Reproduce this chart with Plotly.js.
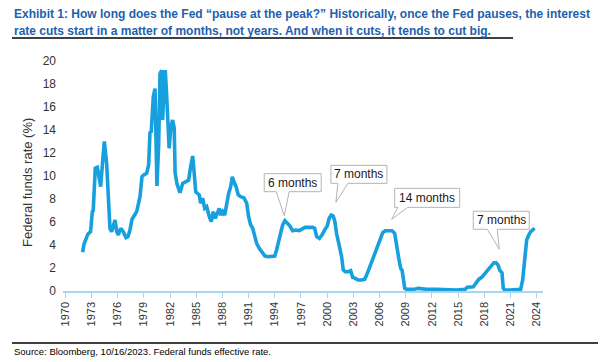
<!DOCTYPE html>
<html>
<head>
<meta charset="utf-8">
<script src="https://cdn.plot.ly/plotly-3.0.1.min.js"></script>
<style>
  html, body { margin: 0; padding: 0; background: #fff; }
  #chart { width: 602px; height: 362px; }
</style>
</head>
<body>
<div id="chart"></div>
<script>
// Federal funds effective rate (%), sampled along the series
const years = [
  1971.99, 1972.14, 1972.6, 1972.9, 1973.1, 1973.2, 1973.44, 1973.67, 1973.86, 1974.05,
  1974.2, 1974.47, 1974.74, 1974.97, 1975.12, 1975.31, 1975.5, 1975.7, 1975.9, 1976.07,
  1976.35, 1976.65, 1976.95, 1977.18, 1977.41, 1977.64, 1977.87, 1978.18, 1978.56, 1978.79,
  1979.0, 1979.32, 1979.55, 1979.7, 1979.85, 1980.08, 1980.28, 1980.39, 1980.5, 1980.7,
  1980.85, 1981.04, 1981.16, 1981.3, 1981.45, 1981.6, 1981.76, 1981.9, 1982.1, 1982.3,
  1982.48, 1982.58, 1982.8, 1983.0, 1983.14, 1983.45, 1983.83, 1984.13, 1984.36, 1984.59,
  1984.74, 1984.94, 1985.12, 1985.35, 1985.5, 1985.74, 1985.97, 1986.2, 1986.5, 1986.72,
  1986.95, 1987.18, 1987.41, 1987.64, 1987.8, 1988.03, 1988.26, 1988.49, 1988.72, 1988.95,
  1989.13, 1989.32, 1989.56, 1989.82, 1990.09, 1990.47, 1990.78, 1991.0, 1991.24, 1991.47,
  1991.7, 1991.92, 1992.22, 1992.53, 1992.87, 1993.25, 1993.64, 1994.0, 1994.2, 1994.44,
  1994.67, 1994.9, 1995.16, 1995.43, 1995.74, 1996.04, 1996.42, 1996.8, 1997.08, 1997.46,
  1997.84, 1998.34, 1998.57, 1998.8, 1999.1, 1999.4, 1999.7, 2000.0, 2000.23, 2000.46,
  2000.69, 2000.88, 2001.07, 2001.26, 2001.45, 2001.65, 2001.84, 2002.07, 2002.42, 2002.69,
  2002.92, 2003.22, 2003.53, 2003.9, 2004.29, 2004.6, 2004.9, 2005.28, 2005.67, 2006.05,
  2006.36, 2006.66, 2007.05, 2007.43, 2007.73, 2007.96, 2008.2, 2008.42, 2008.57, 2008.72,
  2008.88, 2009.1, 2009.87, 2010.44, 2011.4, 2012.54, 2013.69, 2014.83, 2015.79, 2016.05,
  2016.74, 2017.12, 2017.35, 2017.7, 2018.07, 2018.45, 2018.84, 2019.1, 2019.33, 2019.56,
  2019.79, 2020.02, 2020.17, 2020.33, 2020.93, 2021.7, 2022.16, 2022.39, 2022.54, 2022.69,
  2022.85, 2023.08, 2023.31, 2023.61, 2023.77
];
const rates = [
  3.37, 4.06, 4.96, 5.16, 6.9, 7.0, 10.67, 10.75, 9.94, 9.07,
  10.5, 13.0, 11.1, 7.9, 5.45, 5.16, 5.74, 6.17, 5.16, 4.87,
  5.45, 5.16, 4.64, 4.72, 5.3, 6.23, 6.52, 6.9, 8.2, 9.94,
  10.1, 10.23, 10.96, 13.77, 13.86, 16.9, 17.6, 10.23, 9.13, 12.8,
  18.9, 19.2, 14.87, 17.8, 19.2, 17.2, 14.87, 12.4, 14.3, 14.87,
  14.15, 10.3, 9.3, 8.7, 8.55, 9.36, 9.5, 9.65, 10.8, 11.74,
  10.5, 8.63, 8.5, 8.35, 7.63, 8.06, 7.19, 7.33, 6.46, 6.03,
  6.9, 6.32, 6.75, 7.19, 6.6, 6.9, 6.6, 7.63, 8.5, 9.07,
  9.94, 9.5, 9.07, 8.35, 8.2, 8.1, 7.63, 6.46, 5.74, 5.45,
  4.78, 4.14, 3.71, 3.42, 3.04, 2.98, 2.98, 3.04, 3.57, 4.43,
  5.02, 5.74, 6.11, 5.94, 5.65, 5.24, 5.3, 5.25, 5.36, 5.53,
  5.53, 5.53, 5.45, 4.72, 4.58, 4.87, 5.3, 5.65, 6.32, 6.6,
  6.52, 6.03, 5.02, 4.14, 3.71, 2.98, 1.83, 1.68, 1.68, 1.77,
  1.19, 1.1, 0.96, 0.96, 1.01, 1.54, 2.17, 2.98, 3.71, 4.43,
  5.07, 5.24, 5.24, 5.24, 5.02, 4.14, 2.84, 1.97, 1.83, 1.1,
  0.23, 0.14, 0.14, 0.23, 0.15, 0.15, 0.09, 0.09, 0.15, 0.32,
  0.37, 0.72, 1.01, 1.19, 1.54, 1.83, 2.26, 2.46, 2.46, 2.26,
  1.77, 1.59, 0.23, 0.09, 0.09, 0.09, 0.15, 0.96, 2.26, 3.28,
  4.43, 4.87, 5.16, 5.36, 5.45
];

// Axis ticks
const xTickVals = [1970, 1973, 1976, 1979, 1982, 1985, 1988, 1991, 1994, 1997,
                   2000, 2003, 2006, 2009, 2012, 2015, 2018, 2021, 2024];
const xTickText = xTickVals.map(String);
const yTickVals = [0, 2, 4, 6, 8, 10, 12, 14, 16, 18, 20];

// Pause-length callouts: label and the point each callout tip sits on
const calloutLabels = ["6 months", "7 months", "14 months", "7 months"];
const calloutYears  = [1995.08, 2001.0, 2007.39, 2019.71];
const calloutRates  = [6.55, 7.71, 6.23, 3.63];

const FONT = "Liberation Sans, Arial, sans-serif";
const W = 602, H = 362;
const M = { l: 63, r: 59, t: 61, b: 71 };
const PW = W - M.l - M.r, PH = H - M.t - M.b;
const px2paperX = px => (px - M.l) / PW;
const px2paperY = py => (H - M.b - py) / PH;

// Callout box geometry, in pixels relative to the tip (screen y downwards)
// [boxLeft, boxRight, boxTop, boxBottom, baseLeft, baseRight]
const calloutGeom = [
  [-20, 37, -42, -24, -8, 5],
  [-5, 51, -37, -19, 2, 12],
  [3, 68, -31, -12, 6, 16],
  [-26, 30, -38, -20, -12, -2]
];

const shapes = [];
const annotations = [];

calloutLabels.forEach((label, i) => {
  const [l, r, t, b, bl, br] = calloutGeom[i];
  // speech-bubble outline; pixel path y runs upward, so flip sign
  const p = (x, y) => `${x},${-y}`;
  const path = `M${p(l, t)} L${p(r, t)} L${p(r, b)} L${p(br, b)} L${p(0, 0)} L${p(bl, b)} L${p(l, b)} Z`;
  shapes.push({
    type: "path",
    xref: "x", yref: "y",
    xsizemode: "pixel", ysizemode: "pixel",
    xanchor: calloutYears[i], yanchor: calloutRates[i],
    path: path,
    fillcolor: "#ffffff",
    line: { color: "#b4b4b4", width: 1 },
    layer: "above"
  });
  annotations.push({
    x: calloutYears[i], y: calloutRates[i], xref: "x", yref: "y",
    text: label, showarrow: false,
    xanchor: "center", yanchor: "middle",
    xshift: (l + r) / 2, yshift: -(t + b) / 2,
    font: { family: FONT, size: 12, color: "#1a1a1a" }
  });
});

// Rules above the plot and above the source line
shapes.push({
  type: "line", xref: "paper", yref: "paper",
  x0: px2paperX(12), x1: px2paperX(513), y0: px2paperY(38), y1: px2paperY(38),
  line: { color: "#000000", width: 1.5 }
});
shapes.push({
  type: "line", xref: "paper", yref: "paper",
  x0: px2paperX(12), x1: px2paperX(598), y0: px2paperY(343), y1: px2paperY(343),
  line: { color: "#000000", width: 1.5 }
});

const titleColor = "#1d5fae";
annotations.push({
  xref: "paper", yref: "paper", x: px2paperX(12), y: px2paperY(14),
  xanchor: "left", yanchor: "middle", showarrow: false,
  text: "<b>Exhibit 1: How long does the Fed “pause at the peak?” Historically, once the Fed pauses, the interest</b>",
  font: { family: FONT, size: 12, color: titleColor }
});
annotations.push({
  xref: "paper", yref: "paper", x: px2paperX(12), y: px2paperY(31.5),
  xanchor: "left", yanchor: "middle", showarrow: false,
  text: "<b>rate cuts start in a matter of months, not years. And when it cuts, it tends to cut big.</b>",
  font: { family: FONT, size: 12, color: titleColor }
});
annotations.push({
  xref: "paper", yref: "paper", x: px2paperX(12), y: px2paperY(351),
  xanchor: "left", yanchor: "middle", showarrow: false,
  text: "Source: Bloomberg, 10/16/2023. Federal funds effective rate.",
  font: { family: FONT, size: 9.5, color: "#000000" }
});
// Y-axis title
annotations.push({
  xref: "paper", yref: "paper", x: px2paperX(27), y: px2paperY(183),
  xanchor: "center", yanchor: "middle", showarrow: false, textangle: -90,
  text: "Federal funds rate (%)",
  font: { family: FONT, size: 13, color: "#333333" }
});

const trace = {
  x: years, y: rates,
  type: "scatter", mode: "lines",
  line: { color: "#179fde", width: 3.6, shape: "linear" },
  hoverinfo: "x+y"
};

const layout = {
  width: W, height: H,
  margin: M,
  paper_bgcolor: "#ffffff", plot_bgcolor: "#ffffff",
  showlegend: false,
  font: { family: FONT, color: "#333333" },
  xaxis: {
    range: [1969.74, 2024.72],
    tickvals: xTickVals, ticktext: xTickText,
    tickangle: -90,
    tickfont: { family: FONT, size: 11, color: "#333333" },
    ticks: "outside", ticklen: 5, tickcolor: "#a6d6f2", tickwidth: 1,
    showline: true, linecolor: "#a6d6f2", linewidth: 1.5,
    showgrid: false, zeroline: false
  },
  yaxis: {
    range: [0, 20],
    tickvals: yTickVals,
    tickfont: { family: FONT, size: 12, color: "#333333" },
    ticks: "", ticklabelstandoff: 6,
    showline: false, showgrid: false, zeroline: false
  },
  shapes: shapes,
  annotations: annotations
};

Plotly.newPlot("chart", [trace], layout, { displayModeBar: false, staticPlot: true });
</script>
</body>
</html>
